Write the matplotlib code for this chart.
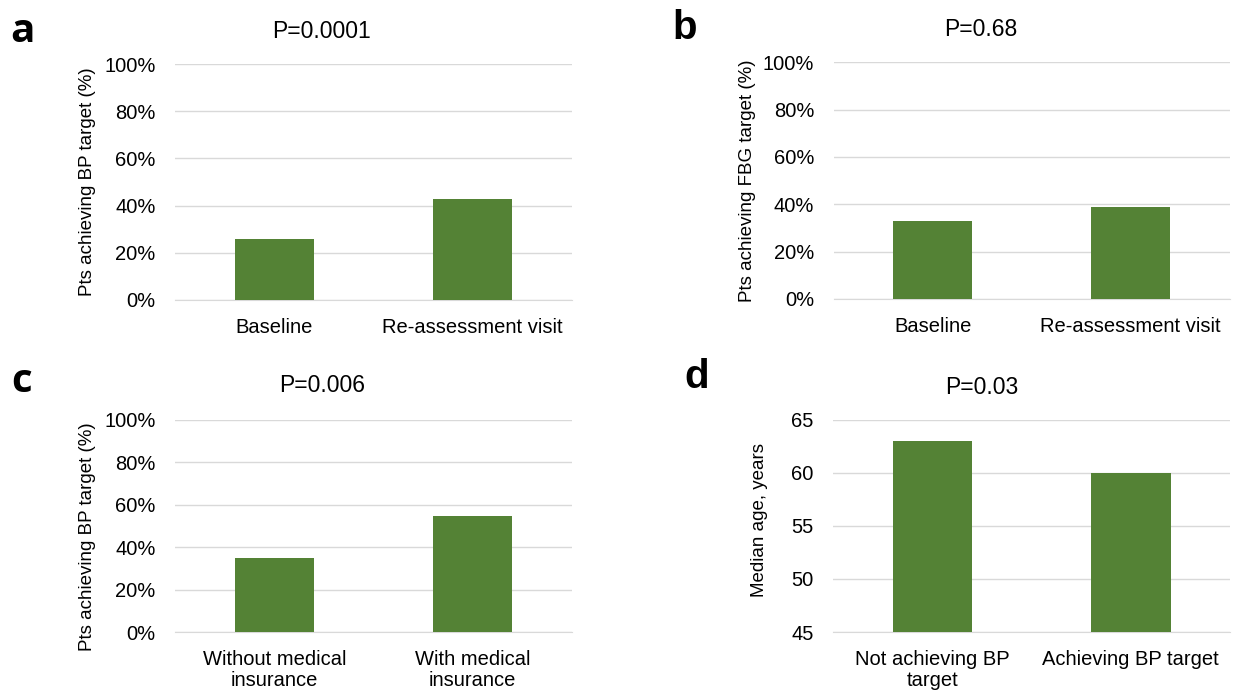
import matplotlib
matplotlib.use('Agg')
import matplotlib.pyplot as plt
from matplotlib.ticker import PercentFormatter

plt.rcParams['font.family'] = ['Liberation Sans', 'DejaVu Sans']

# data
cats_a = ['Baseline', 'Re-assessment visit']
vals_a = [26, 43]
cats_b = ['Baseline', 'Re-assessment visit']
vals_b = [33, 39]
cats_c = ['Without medical\ninsurance', 'With medical\ninsurance']
vals_c = [35, 54.5]
cats_d = ['Not achieving BP\ntarget', 'Achieving BP target']
vals_d = [63, 60]

green = '#548235'
grid = '#d9d9d9'

W, H = 1235, 692
fig = plt.figure(figsize=(12.35, 6.92), dpi=100)

def panel(rect, cats, vals, title, title_xy, ylabel, letter, letter_xy, letter_font,
          pct=True, ylim=(0, 100), step=20, lab_xy=(-0.2, 0.5)):
    ax = fig.add_axes(rect)
    x = range(len(cats))
    ax.bar(x, [v - ylim[0] for v in vals], bottom=ylim[0], width=0.4, color=green, zorder=3)
    ax.set_xlim(-0.5, len(cats) - 0.5)
    ax.set_ylim(*ylim)
    ax.set_yticks(range(ylim[0], ylim[1] + 1, step))
    if pct:
        ax.yaxis.set_major_formatter(PercentFormatter(decimals=0))
    ax.set_xticks(list(x))
    ax.set_xticklabels(cats, fontsize=14.5, linespacing=1.1)
    ax.tick_params(axis='y', labelsize=14.5, length=0, pad=14)
    ax.tick_params(axis='x', length=0, pad=13)
    ax.grid(axis='y', color=grid, linewidth=1, zorder=0)
    for s in ['top', 'right', 'left']:
        ax.spines[s].set_visible(False)
    ax.spines['bottom'].set_color(grid)
    ax.set_ylabel(ylabel, fontsize=13.5)
    ax.yaxis.set_label_coords(*lab_xy)
    fig.text(title_xy[0] / W, 1 - title_xy[1] / H, title, fontsize=16.5,
             ha='center', va='center')
    fig.text(letter_xy[0] / W, 1 - letter_xy[1] / H, letter, fontsize=29,
             fontweight='bold', family=letter_font, ha='center', va='center')
    return ax

panel([0.1417, 0.5665, 0.3215, 0.341], cats_a, vals_a, 'P=0.0001', (321, 31),
      'Pts achieving BP target (%)', 'a', (22, 31), 'Open Sans')
panel([0.675, 0.568, 0.3206, 0.342], cats_b, vals_b, 'P=0.68', (981, 30),
      'Pts achieving FBG target (%)', 'b', (685, 28), 'Liberation Sans',
      lab_xy=(-0.196, 0.5))
panel([0.1417, 0.0867, 0.3215, 0.3064], cats_c, vals_c, 'P=0.006', (322, 386),
      'Pts achieving BP target (%)', 'c', (22, 382), 'Open Sans', lab_xy=(-0.2, 0.45))
panel([0.6745, 0.0867, 0.3215, 0.3064], cats_d, vals_d, 'P=0.03', (982, 387),
      'Median age, years', 'd', (697, 377), 'Liberation Sans', pct=False,
      ylim=(45, 65), step=5, lab_xy=(-0.164, 0.53))

fig.savefig('out.png', dpi=100)
